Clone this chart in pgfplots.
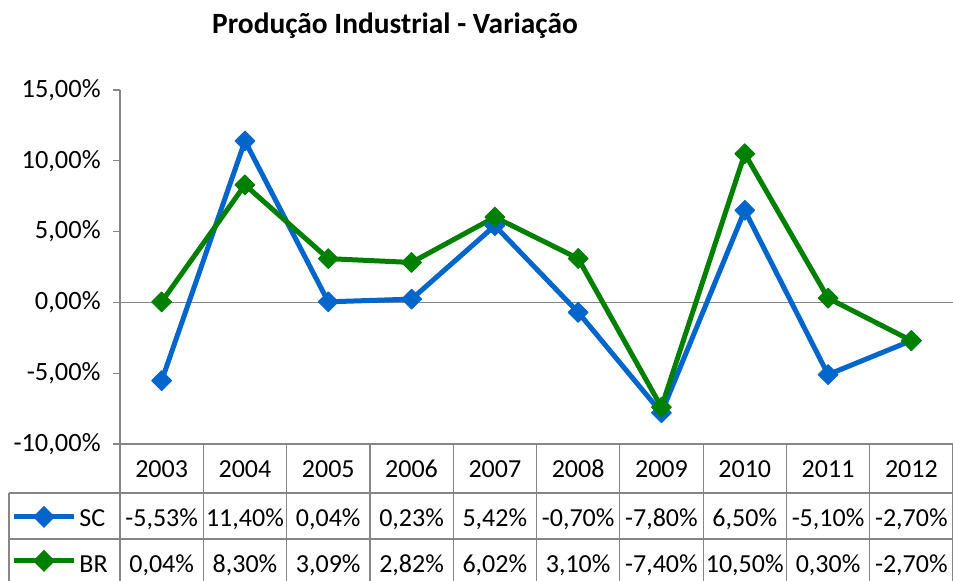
\documentclass[border=0pt]{standalone}
\usepackage{pgfplots}
\pgfplotsset{compat=1.18}
\usepackage{fontspec}
\setmainfont{Carlito}
\definecolor{scblue}{RGB}{0,102,204}
\definecolor{brgreen}{RGB}{0,128,0}
\definecolor{axgray}{RGB}{134,134,134}
\begin{document}
\begin{tikzpicture}[font=\fontsize{13}{15}\selectfont]
\begin{axis}[
 at={(60pt,-222pt)}, anchor=south west,
 scale only axis, width=416.5pt, height=177pt,
 xmin=-0.5, xmax=9.5, ymin=-10, ymax=15,
 axis x line=none, axis y line*=left,
 y axis line style={axgray, line width=0.6pt},
 ytick={-10,-5,0,5,10,15},
 yticklabels={{-10,00\%},{-5,00\%},{0,00\%},{5,00\%},{10,00\%},{15,00\%}},
 tick align=outside, major tick length=3.5pt,
 ytick style={axgray, line width=0.6pt},
 yticklabel style={font=\fontsize{13.2}{15}\selectfont, inner sep=0pt, xshift=-6pt},
 clip=false,
]
\draw[axgray, line width=0.6pt] (axis cs:-0.5,0) -- (axis cs:9.5,0);
\addplot[scblue, line width=2.5pt, line join=round, mark=square*, mark size=3.5pt, mark options={rotate=45, line width=0.5pt}]
 coordinates {(0,-5.53) (1,11.40) (2,0.04) (3,0.23) (4,5.42) (5,-0.70) (6,-7.80) (7,6.50) (8,-5.10) (9,-2.70)};
\addplot[brgreen, line width=2.5pt, line join=round, mark=square*, mark size=3.5pt, mark options={rotate=45, line width=0.5pt}]
 coordinates {(0,0.04) (1,8.30) (2,3.09) (3,2.82) (4,6.02) (5,3.10) (6,-7.40) (7,10.50) (8,0.30) (9,-2.70)};
\end{axis}
\begin{scope}[x=0.5pt, y=-0.5pt]
\node[anchor=base, inner sep=0pt, font=\fontsize{14.7}{17}\selectfont\bfseries] at (395,34) {Produção Industrial - Variação};
\draw[axgray, line width=0.6pt] (120,444) -- (953,444);
\draw[axgray, line width=0.6pt] (9,493) -- (953,493);
\draw[axgray, line width=0.6pt] (9,539) -- (953,539);
\draw[axgray, line width=0.6pt] (9,493) -- (9,581);
\draw[axgray, line width=0.6pt] (120,444) -- (120,581);
\foreach \k in {1,...,10} {
  \draw[axgray, line width=0.6pt] ({120+83.3*\k},444) -- ({120+83.3*\k},581);
}
\foreach \yr [count=\i from 0] in {2003,2004,2005,2006,2007,2008,2009,2010,2011,2012} {
  \node[anchor=base, inner sep=0pt] at ({161.65+83.3*\i},478) {\yr};
}
\node[anchor=base, inner sep=0pt] at (161.65,527) {-5,53\%};
\node[anchor=base, inner sep=0pt] at (244.95,527) {11,40\%};
\node[anchor=base, inner sep=0pt] at (328.25,527) {0,04\%};
\node[anchor=base, inner sep=0pt] at (411.55,527) {0,23\%};
\node[anchor=base, inner sep=0pt] at (494.85,527) {5,42\%};
\node[anchor=base, inner sep=0pt] at (578.15,527) {-0,70\%};
\node[anchor=base, inner sep=0pt] at (661.45,527) {-7,80\%};
\node[anchor=base, inner sep=0pt] at (744.75,527) {6,50\%};
\node[anchor=base, inner sep=0pt] at (828.05,527) {-5,10\%};
\node[anchor=base, inner sep=0pt] at (911.35,527) {-2,70\%};
\node[anchor=base, inner sep=0pt] at (161.65,573) {0,04\%};
\node[anchor=base, inner sep=0pt] at (244.95,573) {8,30\%};
\node[anchor=base, inner sep=0pt] at (328.25,573) {3,09\%};
\node[anchor=base, inner sep=0pt] at (411.55,573) {2,82\%};
\node[anchor=base, inner sep=0pt] at (494.85,573) {6,02\%};
\node[anchor=base, inner sep=0pt] at (578.15,573) {3,10\%};
\node[anchor=base, inner sep=0pt] at (661.45,573) {-7,40\%};
\node[anchor=base, inner sep=0pt] at (744.75,573) {10,50\%};
\node[anchor=base, inner sep=0pt] at (828.05,573) {0,30\%};
\node[anchor=base, inner sep=0pt] at (911.35,573) {-2,70\%};
\draw[scblue, line width=2.5pt] (14,517) -- (74,517);
\fill[scblue] (44,506) -- (55,517) -- (44,528) -- (33,517) -- cycle;
\node[anchor=base west, inner sep=0pt] at (79,527) {SC};
\draw[brgreen, line width=2.5pt] (14,561) -- (74,561);
\fill[brgreen] (44,550) -- (55,561) -- (44,572) -- (33,561) -- cycle;
\node[anchor=base west, inner sep=0pt] at (79,573) {BR};
\end{scope}
\pgfresetboundingbox
\useasboundingbox (0,0) rectangle (476.5pt,-290.5pt);
\end{tikzpicture}
\end{document}
